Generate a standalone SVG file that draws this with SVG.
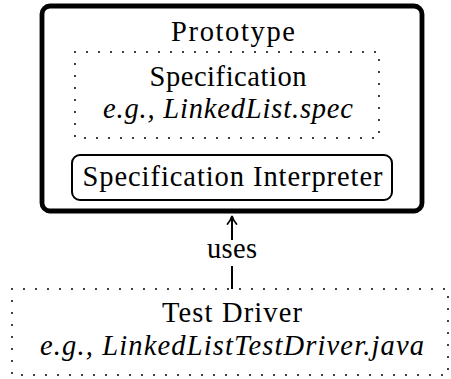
<svg xmlns="http://www.w3.org/2000/svg" width="451" height="379" viewBox="0 0 451 379">
<style>
text{font-family:"Liberation Serif","Times New Roman",serif;font-size:28.5px;fill:#000;text-anchor:middle}
.it{font-style:italic}
.dot{fill:none;stroke:#000;stroke-width:2;stroke-linecap:round;stroke-dasharray:0 12}
.conn{fill:none;stroke:#000;stroke-width:2}
</style>
<defs>
<marker id="arr" markerUnits="userSpaceOnUse" markerWidth="12" markerHeight="12" refX="10" refY="6" orient="auto">
<path d="M2,1.5 Q6,5 10,6 Q6,7 2,10.5" fill="none" stroke="#000" stroke-width="1.8" stroke-linecap="round"/>
</marker>
</defs>
<rect x="0" y="0" width="451" height="379" fill="#fff"/>
<g id="prototype">
<rect x="42" y="6" width="380" height="205" rx="8" fill="#fff" stroke="#000" stroke-width="4.8"/>
<text x="233" y="41" textLength="124">Prototype</text>
</g>
<g id="specification">
<rect x="75" y="52" width="304" height="86" class="dot"/>
<text x="228" y="86" textLength="157">Specification</text>
<text x="228" y="118" class="it" textLength="250">e.g., LinkedList.spec</text>
</g>
<g id="interpreter">
<rect x="72" y="155" width="320" height="45" rx="8" fill="#fff" stroke="#000" stroke-width="2"/>
<text x="232.5" y="186" textLength="300">Specification Interpreter</text>
</g>
<g id="testdriver">
<rect x="12" y="289" width="436" height="86" class="dot"/>
<text x="232" y="322" textLength="140">Test Driver</text>
<text x="232" y="355" class="it" textLength="384">e.g., LinkedListTestDriver.java</text>
</g>
<g id="connectors">
<line x1="232" y1="289" x2="232" y2="216" class="conn" marker-end="url(#arr)"/>
<rect x="206" y="240" width="52" height="26" fill="#fff"/>
<text x="232" y="258" textLength="50">uses</text>
</g>
</svg>
